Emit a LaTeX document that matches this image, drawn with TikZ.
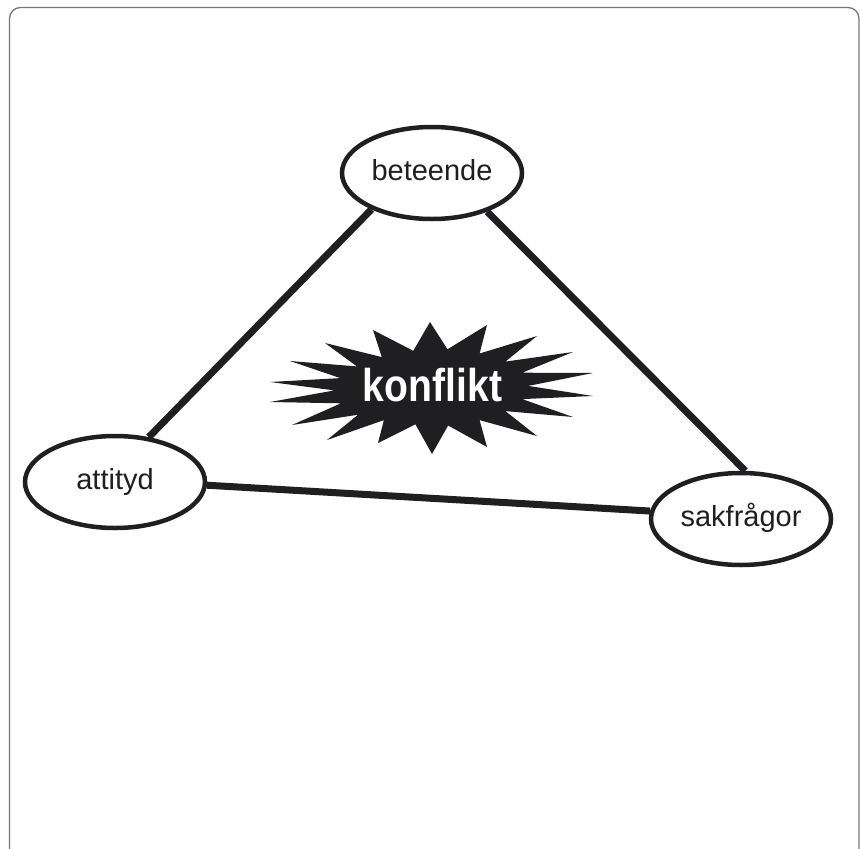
\documentclass[tikz,border=0pt]{standalone}
\usepackage{fontspec}
\setmainfont{Liberation Sans}
\usetikzlibrary{shapes.geometric,backgrounds}
\definecolor{ink}{HTML}{1F1F22}
\definecolor{frame}{HTML}{777777}
\tikzset{
  bubble/.style={ellipse, draw=ink, line width=4.5pt, fill=white,
    minimum width=180pt, minimum height=92pt, inner sep=0pt,
    font=\fontsize{29}{31}\selectfont, text=ink,
    text height=19pt, text depth=5pt},
  link/.style={draw=ink, line width=7pt},
  border/.style={draw=frame, line width=1.3pt, rounded corners=11pt}
}
\begin{document}
\begin{tikzpicture}[x=1pt,y=-1pt]
\useasboundingbox (0,0) rectangle (860,849);
\draw[border] (9.5,870) -- (9.5,7.5) -- (859,7.5) -- (859,870);

\node[bubble] (bet) at (432,173) {beteende};
\node[bubble] (att) at (115,482) {attityd\hspace{12pt}};
\node[bubble] (sak) at (741,519) {sakfrågor};

\begin{pgfonlayer}{background}
\draw[link] (bet.211) -- (att.53);
\draw[link] (bet.325) -- (sak.85);
\draw[link] (att.358) -- (sak.175.5);
\end{pgfonlayer}

\fill[ink] (430,322) -- (447.5,349.3) -- (487,325) -- (479.6,353.5)
  -- (537,336) -- (505.4,361.6) -- (573,352) -- (522.2,372.7)
  -- (593,373) -- (528.2,385.9) -- (593,396) -- (522.2,399.1)
  -- (573,417) -- (505.4,411.1) -- (537,436) -- (479.6,420.1)
  -- (487,447) -- (448.1,425.5) -- (432,454) -- (415.4,424.3)
  -- (378,443) -- (383.9,420.1) -- (327,440) -- (358.1,414.7)
  -- (292,425) -- (341,403.3) -- (270,402) -- (334.4,390.4)
  -- (270,382) -- (340.4,378.1) -- (290,361) -- (356.9,366.4)
  -- (325,343) -- (381.8,357.1) -- (373,330) -- (413.3,350.8) -- cycle;
\node[anchor=base, inner sep=0pt, text=white, xscale=0.85,
  font=\fontsize{46}{48}\selectfont\bfseries] (konf) at (432.5,401) {konflikt};
\end{tikzpicture}
\end{document}
